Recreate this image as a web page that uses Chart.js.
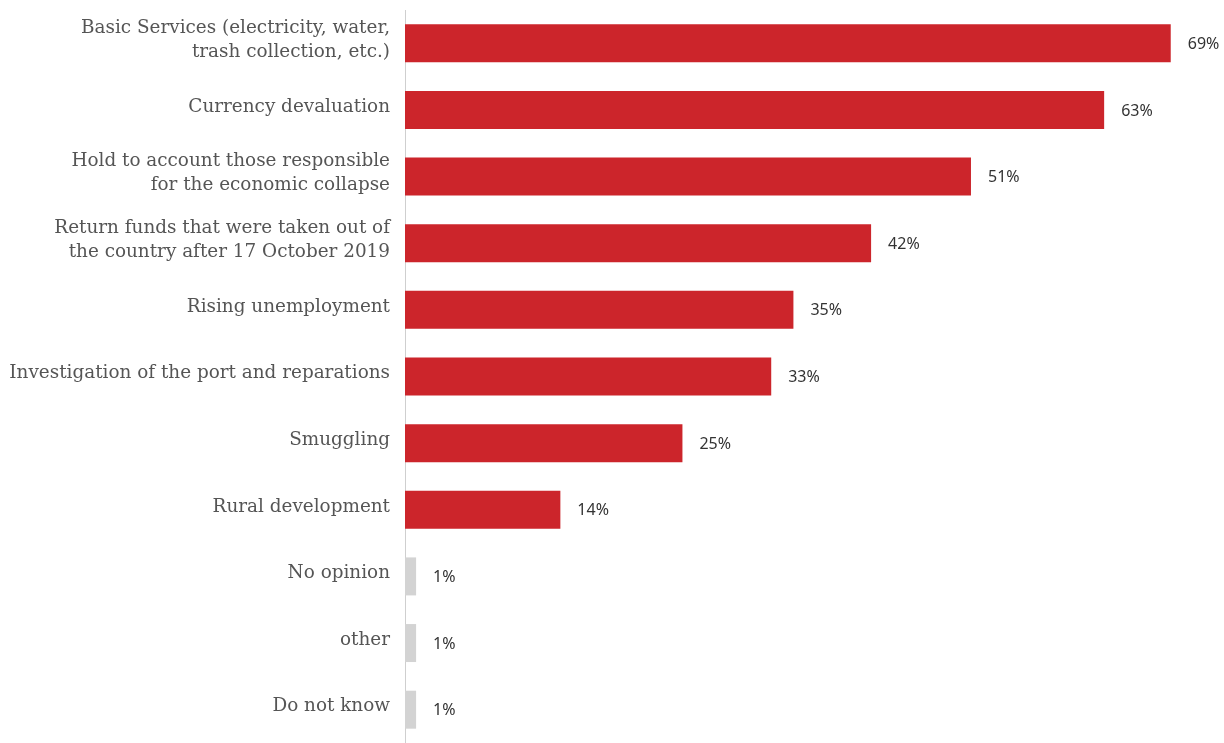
<!DOCTYPE html>
<html>
<head>
<meta charset="utf-8">
<script src="https://cdn.jsdelivr.net/npm/chart.js@4"></script>
<style>
  html, body { margin: 0; padding: 0; background: #fff; }
  #wrap { width: 1224px; height: 743px; }
</style>
</head>
<body>
<div id="wrap"><canvas id="priorities"></canvas></div>
<script>
// categories (multi-line labels as arrays)
const categories = [
  ["Basic Services (electricity, water,", "trash collection, etc.)"],
  "Currency devaluation",
  ["Hold to account those responsible", "for the economic collapse"],
  ["Return funds that were taken out of", "the country after 17 October 2019"],
  "Rising unemployment",
  "Investigation of the port and reparations",
  "Smuggling",
  "Rural development",
  "No opinion",
  "other",
  "Do not know"
];
const shares = [69, 63, 51, 42, 35, 33, 25, 14, 1, 1, 1];
const neutralAnswers = ["No opinion", "other", "Do not know"];

const RED = "#cc252b";
const GREY = "#d3d3d3";

const barColors = categories.map(c => neutralAnswers.includes(c) ? GREY : RED);

// percent labels right of each bar
const valueLabels = {
  id: "valueLabels",
  afterDatasetsDraw(chart) {
    const ctx = chart.ctx;
    const meta = chart.getDatasetMeta(0);
    ctx.save();
    ctx.font = "16px 'Noto Sans', sans-serif";
    ctx.fillStyle = "#333";
    ctx.textBaseline = "middle";
    ctx.textAlign = "left";
    meta.data.forEach((bar, i) => {
      ctx.fillText(shares[i] + "%", bar.x + 17, bar.y + 1);
    });
    ctx.restore();
  }
};

const ctx = document.getElementById("priorities").getContext("2d");
new Chart(ctx, {
  type: "bar",
  data: {
    labels: categories,
    datasets: [{
      data: shares,
      backgroundColor: barColors,
      borderWidth: 0,
      barPercentage: 0.57,
      categoryPercentage: 1.0
    }]
  },
  options: {
    indexAxis: "y",
    responsive: true,
    maintainAspectRatio: false,
    animation: false,
    layout: { padding: { top: 10, right: 0, bottom: 0, left: 0 } },
    plugins: {
      legend: { display: false },
      tooltip: { enabled: false }
    },
    scales: {
      x: {
        display: false,
        min: 0,
        max: 73.8
      },
      y: {
        afterFit(scale) {
          scale.width = 405;
          // labels may overhang the plot area; don't reserve room for them
          scale.paddingTop = 0;
          scale.paddingBottom = 0;
        },
        grid: { display: false, drawTicks: false },
        border: { display: true, color: "#cfcfcf", width: 1 },
        ticks: {
          padding: 15,
          labelOffset: -3,
          color: "#555",
          font: { family: "'DejaVu Serif', serif", size: 18.4, lineHeight: "24px" }
        }
      }
    }
  },
  plugins: [valueLabels]
});
</script>
</body>
</html>
